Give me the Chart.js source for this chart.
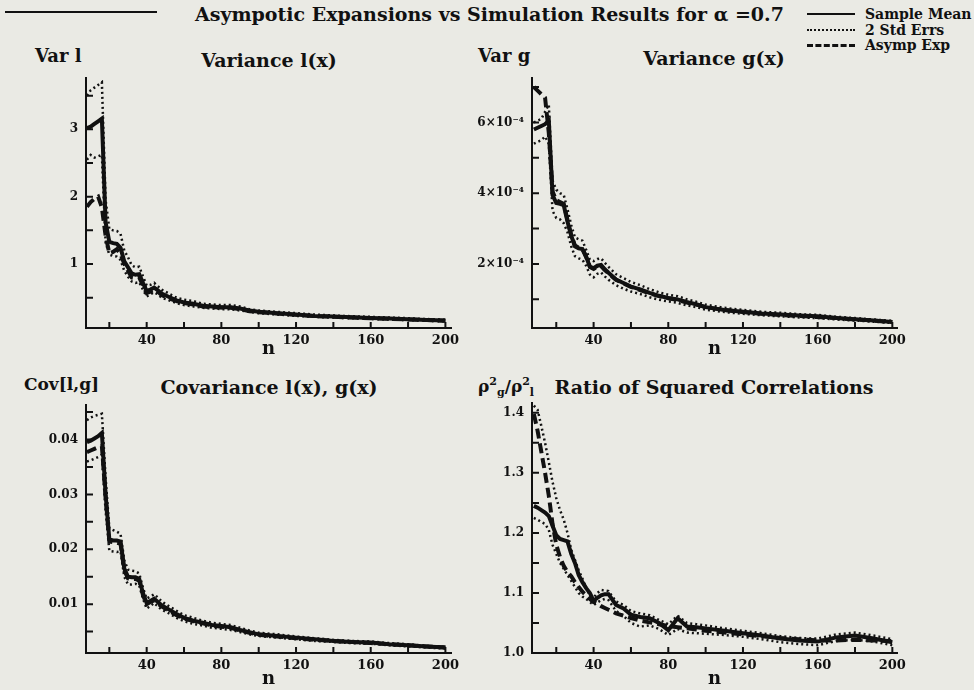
<!DOCTYPE html>
<html>
<head>
<meta charset="utf-8">
<script src="https://cdn.jsdelivr.net/npm/chart.js@4.4.1/dist/chart.umd.min.js"></script>
<style>
  html, body { margin: 0; padding: 0; }
  body { width: 974px; height: 690px; background: #eaeae4; position: relative; overflow: hidden; }
  canvas { position: absolute; }
  .txt { position: absolute; font-family: 'DejaVu Serif', serif; font-weight: bold; color: #111; white-space: nowrap; line-height: 1; }
  .c { transform: translate(-50%, -50%); }
  .l { transform: translate(0, -50%); }
  .rule { position: absolute; background: #111; }
  .legline { position: absolute; width: 48px; height: 0; }
  sup, sub { font-size: 11px; }
</style>
</head>
<body>

<div class="rule" style="left:5px; top:11px; width:152px; height:2px;"></div>
<div class="txt l" style="left:195px; top:14px; font-size:19px;">Asympotic Expansions vs Simulation Results for α =0.7</div>

<div class="legline" style="left:807px; top:13px; border-top:2px solid #111;"></div>
<div class="txt l" style="left:865px; top:14px; font-size:14px;">Sample Mean</div>
<div class="legline" style="left:807px; top:29px; border-top:2px dotted #111;"></div>
<div class="txt l" style="left:865px; top:30px; font-size:14px;">2 Std Errs</div>
<div class="legline" style="left:807px; top:44px; border-top:3px dashed #111;"></div>
<div class="txt l" style="left:865px; top:45px; font-size:14px;">Asymp Exp</div>

<div class="txt l" style="left:35px; top:56px; font-size:18px;">Var l</div>
<div class="txt c" style="left:269px; top:60px; font-size:19px;">Variance l(x)</div>
<div class="txt l" style="left:478px; top:56px; font-size:18px;">Var g</div>
<div class="txt c" style="left:714px; top:58px; font-size:19px;">Variance g(x)</div>

<div class="txt l" style="left:24px; top:384px; font-size:17px;">Cov[l,g]</div>
<div class="txt c" style="left:269px; top:387px; font-size:19px;">Covariance l(x), g(x)</div>
<div class="txt l" style="left:478px; top:387px; font-size:17px;">ρ<sup>2</sup><sub>g</sub>/ρ<sup>2</sup><sub>l</sub></div>
<div class="txt c" style="left:714px; top:387px; font-size:19px;">Ratio of Squared Correlations</div>

<canvas id="varL" width="446" height="297" style="left:26px; top:63px;"></canvas>
<canvas id="varG" width="452" height="297" style="left:470px; top:63px;"></canvas>
<canvas id="cov" width="446" height="300" style="left:26px; top:390px;"></canvas>
<canvas id="ratio" width="452" height="302" style="left:470px; top:388px;"></canvas>

<script>
// sample sizes n
const nValues = [8, 10, 12, 14, 16, 18, 20, 22, 24, 26, 28, 30, 32, 34, 36, 38, 40, 42, 44, 46,
  48, 52, 56, 60, 65, 70, 75, 80, 85, 90, 95, 100, 110, 120, 130, 140, 150, 160, 170, 180, 190, 200];

// Variance l(x)
const varLMean = [3.02, 3.04, 3.08, 3.12, 3.16, 1.62, 1.33, 1.31, 1.30, 1.24, 1.04, 0.95, 0.86, 0.84, 0.85, 0.72, 0.60, 0.62, 0.65, 0.61,
  0.56, 0.51, 0.46, 0.43, 0.41, 0.38, 0.37, 0.36, 0.36, 0.34, 0.31, 0.29, 0.27, 0.25, 0.23, 0.22, 0.21, 0.20, 0.19, 0.18, 0.17, 0.16];
const varLUpper = [3.50, 3.58, 3.62, 3.66, 3.70, 1.95, 1.52, 1.50, 1.49, 1.45, 1.20, 1.10, 0.98, 0.95, 0.96, 0.82, 0.68, 0.69, 0.72, 0.67,
  0.62, 0.56, 0.50, 0.47, 0.45, 0.41, 0.40, 0.39, 0.39, 0.37, 0.33, 0.31, 0.29, 0.27, 0.25, 0.235, 0.225, 0.215, 0.205, 0.195, 0.183, 0.172];
const varLLower = [2.55, 2.62, 2.58, 2.60, 2.62, 1.32, 1.14, 1.12, 1.11, 1.06, 0.90, 0.81, 0.74, 0.72, 0.73, 0.62, 0.52, 0.55, 0.58, 0.55,
  0.50, 0.46, 0.42, 0.39, 0.37, 0.35, 0.34, 0.33, 0.33, 0.31, 0.29, 0.27, 0.25, 0.23, 0.215, 0.205, 0.195, 0.185, 0.175, 0.167, 0.158, 0.148];
const varLAsym = [1.85, 1.92, 1.97, 2.00, 1.84, 1.42, 1.16, 1.18, 1.22, 1.15, 1.00, 0.90, 0.80, 0.79, 0.80, 0.68, 0.57, 0.59, 0.62, 0.59,
  0.54, 0.49, 0.45, 0.42, 0.40, 0.37, 0.36, 0.355, 0.35, 0.33, 0.30, 0.285, 0.265, 0.245, 0.228, 0.216, 0.205, 0.195, 0.186, 0.177, 0.168, 0.158];

// Variance g(x)
const varGMean = [5.80e-4, 5.85e-4, 5.90e-4, 5.95e-4, 6.05e-4, 3.95e-4, 3.72e-4, 3.70e-4, 3.66e-4, 3.20e-4, 2.80e-4, 2.50e-4, 2.44e-4, 2.42e-4,
  2.20e-4, 1.92e-4, 1.88e-4, 1.95e-4, 1.97e-4, 1.85e-4, 1.75e-4, 1.56e-4, 1.46e-4, 1.36e-4, 1.28e-4, 1.18e-4, 1.10e-4, 1.04e-4,
  1.00e-4, 0.92e-4, 0.86e-4, 0.78e-4, 0.70e-4, 0.65e-4, 0.60e-4, 0.57e-4, 0.54e-4, 0.52e-4, 0.47e-4, 0.44e-4, 0.40e-4, 0.36e-4];
const varGUpper = [6.00e-4, 6.05e-4, 6.10e-4, 6.30e-4, 6.50e-4, 4.35e-4, 4.10e-4, 4.00e-4, 3.95e-4, 3.55e-4, 3.10e-4, 2.75e-4, 2.70e-4, 2.66e-4,
  2.40e-4, 2.12e-4, 2.08e-4, 2.14e-4, 2.16e-4, 2.03e-4, 1.92e-4, 1.71e-4, 1.60e-4, 1.49e-4, 1.40e-4, 1.29e-4, 1.20e-4, 1.13e-4,
  1.09e-4, 1.00e-4, 0.93e-4, 0.85e-4, 0.76e-4, 0.70e-4, 0.65e-4, 0.62e-4, 0.58e-4, 0.56e-4, 0.51e-4, 0.47e-4, 0.43e-4, 0.39e-4];
const varGLower = [5.40e-4, 5.45e-4, 5.50e-4, 5.60e-4, 5.40e-4, 3.50e-4, 3.30e-4, 3.26e-4, 3.15e-4, 2.90e-4, 2.50e-4, 2.22e-4, 2.16e-4, 2.12e-4,
  1.95e-4, 1.70e-4, 1.62e-4, 1.72e-4, 1.76e-4, 1.65e-4, 1.55e-4, 1.40e-4, 1.30e-4, 1.22e-4, 1.15e-4, 1.06e-4, 0.99e-4, 0.94e-4,
  0.90e-4, 0.83e-4, 0.78e-4, 0.71e-4, 0.64e-4, 0.59e-4, 0.55e-4, 0.52e-4, 0.49e-4, 0.47e-4, 0.43e-4, 0.40e-4, 0.37e-4, 0.33e-4];
const varGAsym = [7.00e-4, 6.90e-4, 6.80e-4, 6.70e-4, 5.70e-4, 4.05e-4, 3.80e-4, 3.75e-4, 3.70e-4, 3.25e-4, 2.82e-4, 2.52e-4, 2.46e-4, 2.43e-4,
  2.20e-4, 1.92e-4, 1.86e-4, 1.92e-4, 1.94e-4, 1.83e-4, 1.73e-4, 1.55e-4, 1.45e-4, 1.35e-4, 1.26e-4, 1.17e-4, 1.09e-4, 1.03e-4,
  0.98e-4, 0.91e-4, 0.85e-4, 0.78e-4, 0.70e-4, 0.64e-4, 0.59e-4, 0.56e-4, 0.53e-4, 0.50e-4, 0.47e-4, 0.43e-4, 0.40e-4, 0.36e-4];

// Covariance l(x), g(x)
const covMean = [0.0395, 0.0398, 0.0402, 0.0406, 0.0412, 0.0300, 0.0218, 0.0216, 0.0216, 0.0214, 0.0165, 0.0150, 0.0149, 0.0149,
  0.0146, 0.0120, 0.0102, 0.0106, 0.0110, 0.0104, 0.0098, 0.0090, 0.0082, 0.0075, 0.0070, 0.0066, 0.0062, 0.0060,
  0.0058, 0.0053, 0.0049, 0.0045, 0.0042, 0.0039, 0.0036, 0.0033, 0.0031, 0.0030, 0.0027, 0.0025, 0.0023, 0.0021];
const covUpper = [0.0435, 0.0440, 0.0443, 0.0445, 0.0447, 0.0330, 0.0238, 0.0235, 0.0232, 0.0228, 0.0180, 0.0163, 0.0161, 0.0160,
  0.0156, 0.0130, 0.0110, 0.0114, 0.0118, 0.0112, 0.0105, 0.0096, 0.0088, 0.0080, 0.0075, 0.0070, 0.0066, 0.0064,
  0.0062, 0.0057, 0.0052, 0.0048, 0.0045, 0.0041, 0.0038, 0.0035, 0.0033, 0.0032, 0.0029, 0.0027, 0.0024, 0.0022];
const covLower = [0.0360, 0.0362, 0.0365, 0.0368, 0.0372, 0.0270, 0.0197, 0.0196, 0.0195, 0.0196, 0.0150, 0.0136, 0.0136, 0.0137,
  0.0134, 0.0110, 0.0092, 0.0097, 0.0102, 0.0096, 0.0090, 0.0083, 0.0075, 0.0069, 0.0064, 0.0061, 0.0057, 0.0055,
  0.0053, 0.0049, 0.0045, 0.0042, 0.0039, 0.0036, 0.0033, 0.0031, 0.0029, 0.0028, 0.0025, 0.0023, 0.0021, 0.0019];
const covAsym = [0.0377, 0.0380, 0.0383, 0.0386, 0.0388, 0.0295, 0.0214, 0.0213, 0.0212, 0.0210, 0.0162, 0.0147, 0.0146, 0.0146,
  0.0143, 0.0117, 0.0100, 0.0104, 0.0107, 0.0101, 0.0096, 0.0088, 0.0080, 0.0074, 0.0069, 0.0065, 0.0061, 0.0059,
  0.0057, 0.0052, 0.0048, 0.0044, 0.0041, 0.0038, 0.0035, 0.0033, 0.0031, 0.0029, 0.0027, 0.0025, 0.0023, 0.0021];

// Ratio of squared correlations
const ratioMean = [1.245, 1.242, 1.238, 1.234, 1.228, 1.212, 1.196, 1.190, 1.188, 1.186, 1.165, 1.150, 1.130, 1.118,
  1.108, 1.100, 1.087, 1.092, 1.096, 1.098, 1.098, 1.080, 1.074, 1.064, 1.060, 1.058, 1.050, 1.038,
  1.058, 1.044, 1.043, 1.041, 1.037, 1.033, 1.029, 1.024, 1.021, 1.019, 1.026, 1.029, 1.024, 1.018];
const ratioUpper = [1.412, 1.405, 1.378, 1.350, 1.318, 1.285, 1.258, 1.238, 1.222, 1.200, 1.172, 1.155, 1.138, 1.124,
  1.108, 1.096, 1.092, 1.100, 1.105, 1.104, 1.103, 1.086, 1.080, 1.070, 1.066, 1.063, 1.055, 1.048,
  1.062, 1.050, 1.048, 1.046, 1.041, 1.037, 1.033, 1.028, 1.025, 1.024, 1.031, 1.034, 1.029, 1.023];
const ratioLower = [1.225, 1.222, 1.218, 1.215, 1.205, 1.180, 1.165, 1.150, 1.140, 1.130, 1.120, 1.110, 1.100, 1.094,
  1.090, 1.085, 1.080, 1.084, 1.088, 1.090, 1.088, 1.070, 1.062, 1.050, 1.044, 1.046, 1.040, 1.030,
  1.040, 1.034, 1.033, 1.032, 1.030, 1.027, 1.023, 1.018, 1.015, 1.013, 1.020, 1.022, 1.019, 1.013];
const ratioAsym = [1.398, 1.370, 1.335, 1.300, 1.262, 1.215, 1.180, 1.160, 1.145, 1.135, 1.128, 1.118, 1.110, 1.102,
  1.096, 1.090, 1.085, 1.082, 1.078, 1.075, 1.072, 1.066, 1.062, 1.058, 1.054, 1.051, 1.048, 1.045,
  1.043, 1.041, 1.039, 1.037, 1.034, 1.031, 1.028, 1.025, 1.023, 1.021, 1.021, 1.022, 1.021, 1.020];

const ink = '#111';
Chart.defaults.font.family = "'DejaVu Serif', serif";
Chart.defaults.font.weight = 'bold';
Chart.defaults.color = ink;

// small tick marks pointing into the plot area
const innerTicks = {
  id: 'innerTicks',
  afterDraw(chart) {
    const ctx = chart.ctx;
    const area = chart.chartArea;
    const xs = chart.scales.x, ys = chart.scales.y;
    ctx.save();
    ctx.strokeStyle = ink;
    ctx.lineWidth = 2;
    ctx.beginPath();
    xs.ticks.forEach(t => {
      const px = xs.getPixelForValue(t.value);
      ctx.moveTo(px, area.bottom);
      ctx.lineTo(px, area.bottom - 6);
    });
    ys.ticks.forEach(t => {
      const py = ys.getPixelForValue(t.value);
      ctx.moveTo(area.left, py);
      ctx.lineTo(area.left + 7, py);
    });
    ctx.stroke();
    ctx.restore();
  }
};

function pts(ys) {
  return nValues.map((n, i) => ({ x: n, y: ys[i] }));
}

function makePanel(id, box, xRange, yAxis, mean, upper, lower, asym) {
  new Chart(document.getElementById(id), {
    type: 'line',
    data: {
      datasets: [
        { label: 'upper', data: pts(upper), borderColor: ink, borderWidth: 2.5, borderDash: [2, 3] },
        { label: 'lower', data: pts(lower), borderColor: ink, borderWidth: 2.5, borderDash: [2, 3] },
        { label: 'Asymp Exp', data: pts(asym), borderColor: ink, borderWidth: 4, borderDash: [10, 5] },
        { label: 'Sample Mean', data: pts(mean), borderColor: ink, borderWidth: 4 }
      ]
    },
    options: {
      responsive: false,
      animation: false,
      events: [],
      elements: { point: { radius: 0 }, line: { tension: 0, fill: false } },
      layout: { padding: { left: 0, top: box.top, right: box.right, bottom: 0 } },
      plugins: { legend: { display: false }, tooltip: { enabled: false } },
      scales: {
        x: {
          type: 'linear',
          min: xRange[0],
          max: xRange[1],
          afterFit: s => { s.height = box.bottom; },
          grid: { display: false, drawTicks: false },
          border: { display: true, color: ink, width: 2 },
          title: { display: true, text: 'n', font: { size: 18, weight: 'bold' }, padding: 0 },
          ticks: {
            stepSize: 20,
            includeBounds: false,
            autoSkip: false,
            maxRotation: 0,
            padding: 5,
            font: { size: 13, weight: 'bold' },
            callback: v => (v % 40 === 0 ? String(v) : '')
          }
        },
        y: {
          type: 'linear',
          min: yAxis.min,
          max: yAxis.max,
          afterFit: s => { s.width = box.left; },
          grid: { display: false, drawTicks: false },
          border: { display: true, color: ink, width: 2 },
          ticks: {
            stepSize: yAxis.step,
            includeBounds: false,
            autoSkip: false,
            padding: 8,
            font: { size: 12, weight: 'bold' },
            callback: yAxis.label
          }
        }
      }
    },
    plugins: [innerTicks]
  });
}

makePanel('varL', { left: 60, top: 10, right: 21, bottom: 32 }, [7.5, 203], {
  min: 0.05, max: 3.76, step: 0.5,
  label: v => (Math.abs(v - Math.round(v)) < 1e-6 ? String(Math.round(v)) : '')
}, varLMean, varLUpper, varLLower, varLAsym);

makePanel('varG', { left: 62, top: 10, right: 25, bottom: 32 }, [7, 202.5], {
  min: 0.19e-4, max: 7.25e-4, step: 1e-4,
  label: v => {
    const k = Math.round(v * 1e4);
    return k % 2 === 0 ? k + '×10⁻⁴' : '';
  }
}, varGMean, varGUpper, varGLower, varGAsym);

makePanel('cov', { left: 60, top: 10, right: 21, bottom: 37 }, [7.5, 203], {
  min: 0.0011, max: 0.04625, step: 0.005,
  label: v => {
    const k = Math.round(v * 1000);
    return k % 10 === 0 ? (k / 1000).toFixed(2) : '';
  }
}, covMean, covUpper, covLower, covAsym);

makePanel('ratio', { left: 62, top: 10, right: 25, bottom: 37 }, [7, 202.5], {
  min: 1.0, max: 1.416, step: 0.05,
  label: v => {
    const k = Math.round(v * 100);
    return k % 10 === 0 ? (k / 100).toFixed(1) : '';
  }
}, ratioMean, ratioUpper, ratioLower, ratioAsym);
</script>
</body>
</html>
